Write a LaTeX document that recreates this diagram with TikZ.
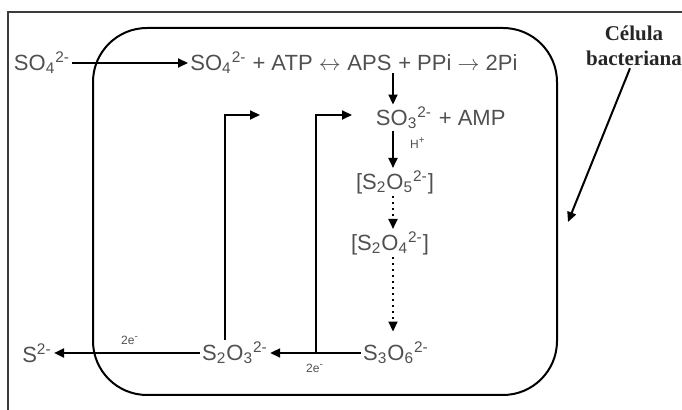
\documentclass[tikz,border=0pt]{standalone}
\usepackage{fontspec}
\setmainfont{Liberation Sans}
\newfontfamily\labelfont{Liberation Serif}
\definecolor{chemgray}{RGB}{80, 80, 80}
\definecolor{framegray}{RGB}{60, 60, 60}
\usetikzlibrary{arrows.meta, positioning, calc}
\newcommand{\ionsub}[1]{\textsubscript{#1}}
\newcommand{\ionsup}[1]{\textsuperscript{#1}}
\tikzset{
	chem/.style={text=chemgray, font=\fontsize{11}{13}\selectfont, inner sep=1pt},
	tinylabel/.style={text=chemgray, font=\fontsize{6}{7}\selectfont, inner sep=0pt},
	arr/.style={line width=1pt, -{Triangle[length=5pt,width=4.5pt]}},
	dotarr/.style={arr, dotted},
}

\begin{document}
\begin{tikzpicture}[x=0.5pt, y=-0.5pt]
	\useasboundingbox (0,0) rectangle (682,410);
	% frame and cell
	\draw[framegray, line width=1pt] (8,410) -- (8,12) -- (682,12);
	\draw[line width=1pt, rounded corners=27pt] (93,28) rectangle (557,395);
	
	% top row
	\node[chem] (so4out) at (42,63) {SO\ionsub{4}\ionsup{2-}};
	\node[chem, anchor=west] (so4atp) at (188,63) {SO\ionsub{4}\ionsup{2-} + ATP $\leftrightarrow$};
	\node[chem, right=1pt of so4atp] (aps) {APS};
	\node[chem, right=1pt of aps] (ppi) {+ PPi $\rightarrow$ 2Pi};
	\draw[arr] (so4out.east) -- (so4atp.west);
	
	% middle column
	\coordinate (col) at (393,0);
	\node[chem] (so3) at (404,118) {SO\ionsub{3}\ionsup{2-}};
	\node[chem, right=1pt of so3] (amp) {+ AMP};
	\node[chem] (s2o5) at (395,182) {[S\ionsub{2}O\ionsub{5}\ionsup{2-}]};
	\node[chem] (s2o4) at (390,243) {[S\ionsub{2}O\ionsub{4}\ionsup{2-}]};
	\node[chem] (s3o6) at (396,353) {S\ionsub{3}O\ionsub{6}\ionsup{2-}};
	\node[tinylabel] (hplus) at (418,143) {H\ionsup{+}};
	\draw[arr] (aps.south -| col) -- (so3.north -| col);
	\draw[arr] (so3.south -| col) -- (s2o5.north -| col);
	\draw[dotarr] (s2o5.south -| col) -- (s2o4.north -| col);
	\draw[dotarr, shorten >=4pt] (s2o4.south -| col) -- (s3o6.north -| col);
	
	% bottom row
	\node[chem] (s2o3) at (235,353) {S\ionsub{2}O\ionsub{3}\ionsup{2-}};
	\node[chem] (s2) at (37,353) {S\ionsup{2-}};
	\node[tinylabel] (e1) at (130,340) {2e\ionsup{-}};
	\node[tinylabel] (e2) at (315,368) {2e\ionsup{-}};
	\draw[arr] (s3o6.west) -- (s2o3.east);
	\draw[arr] (s2o3.west) -- (s2.east);
	
	% return branches
	\coordinate (up1) at (225,0);
	\coordinate (tip1) at (260,115);
	\coordinate (fork2) at ($(s3o6.west)!0.5!(s2o3.east)$);
	\coordinate (tip2) at (352,115);
	\draw[arr] (s2o3.north -| up1) |- (tip1);
	\draw[arr] (fork2) |- (tip2);
	
	% label
	\node[text=black!85, font=\labelfont\bfseries\fontsize{10.5}{12.5}\selectfont, align=center, inner sep=1pt] (cell) at (634,46) {Célula\\bacteriana};
	\coordinate (membrane) at (568,222);
	\draw[arr] ([xshift=-2pt]cell.south) -- (membrane);
\end{tikzpicture}
\end{document}
